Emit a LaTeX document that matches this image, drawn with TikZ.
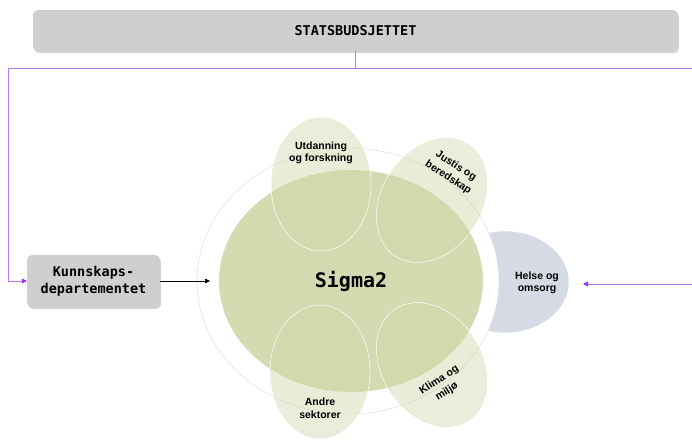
\documentclass[tikz,border=0pt]{standalone}
\usepackage{fontspec}
\setmainfont{Liberation Sans}
\setmonofont{DejaVu Sans Mono}
\usetikzlibrary{arrows.meta,shadows,shapes.geometric}
\definecolor{boxgray}{HTML}{D0CFCF}
\definecolor{sigmagreen}{HTML}{D5DAB0}
\definecolor{petalgreen}{RGB}{209,214,170}
\definecolor{helseblue}{HTML}{D5DAE4}
\definecolor{purpleline}{HTML}{BA78EE}
\definecolor{purplehead}{HTML}{9333EA}
\tikzset{
  graybox/.style={draw=none, fill=boxgray, rounded corners=5pt, drop shadow={shadow xshift=1pt, shadow yshift=-2pt, opacity=0.35}, font=\ttfamily\bfseries, align=center, inner sep=0pt},
  petal/.style={ellipse, draw=white, line width=0.5pt, fill=petalgreen, fill opacity=0.45, text opacity=1, minimum width=100pt, minimum height=134pt, inner sep=0pt},
  plabel/.style={font=\bfseries\fontsize{10.5}{12.5}\selectfont, align=center, text=black, inner sep=0pt},
  rlabel/.style={plabel, font=\bfseries\fontsize{10.5}{14}\selectfont},
  pline/.style={draw=purpleline, line width=0.8pt},
  parrow/.style={pline, -{Triangle[length=5pt,width=5pt,fill=purplehead,color=purplehead]}},
}
\begin{document}
\begin{tikzpicture}[x=1pt,y=1pt]
\useasboundingbox (0,0) rectangle (692,441);
% top box
\node[graybox, minimum width=645pt, minimum height=41pt, font=\ttfamily\bfseries\fontsize{13.5}{15}\selectfont] (stat) at (355.5,410.5) {STATSBUDSJETTET};
% Kunnskapsdepartementet
\node[graybox, minimum width=133pt, minimum height=52pt, font=\ttfamily\bfseries\fontsize{13.5}{17}\selectfont] (kd) at (93.5,160) {Kunnskaps-\\departementet};
% Helse
\node[ellipse, fill=helseblue, draw=white, line width=0.5pt, minimum width=128pt, minimum height=102pt, inner sep=0pt] (helse) at (505,159) {};
% outer white circle
\node[ellipse, fill=white, draw=black!15, line width=0.4pt, minimum width=302pt, minimum height=266pt, inner sep=0pt] (outer) at (348,160) {};
% Sigma2
\node[ellipse, fill=sigmagreen, draw=none, minimum width=264pt, minimum height=222pt, inner sep=0pt, font=\ttfamily\bfseries\fontsize{20}{24}\selectfont] (sigma) at (351,160) {Sigma2};
% petals
\node[petal] (utd) at (321,257) {};
\node[petal] (andre) at (320,69) {};
\node[petal, rotate=-33] (justis) at (432,241) {};
\node[petal, rotate=33] (klima) at (432,76) {};
\node[plabel] (utdl) at (321,288) {Utdanning\\og forskning};
\node[plabel] (andrel) at (320,33) {Andre\\sektorer};
\node[rlabel, rotate=-33] (justisl) at (452,269) {Justis og\\beredskap};
\node[rlabel, rotate=33] (klimal) at (443,55) {Klima og\\miljø};
\node[plabel] (helsel) at (537,158) {Helse og\\omsorg};
% connectors
\coordinate (j) at (355.5,373);
\coordinate (lc) at (8,373);
\coordinate (lb) at (8,160);
\coordinate (re) at (692,373);
\coordinate (rs) at (692,157);
\coordinate (ra) at (583,157);
\coordinate (sa) at (210,160);
\draw[pline] (stat.south) -- (j) -- (re);
\draw[parrow] (j) -- (lc) -- (lb) -- (kd.west);
\draw[parrow] (rs) -- (ra);
\draw[-{Triangle[length=5pt,width=4.5pt]}, line width=0.6pt] (kd.east) -- (sa);
\end{tikzpicture}
\end{document}
